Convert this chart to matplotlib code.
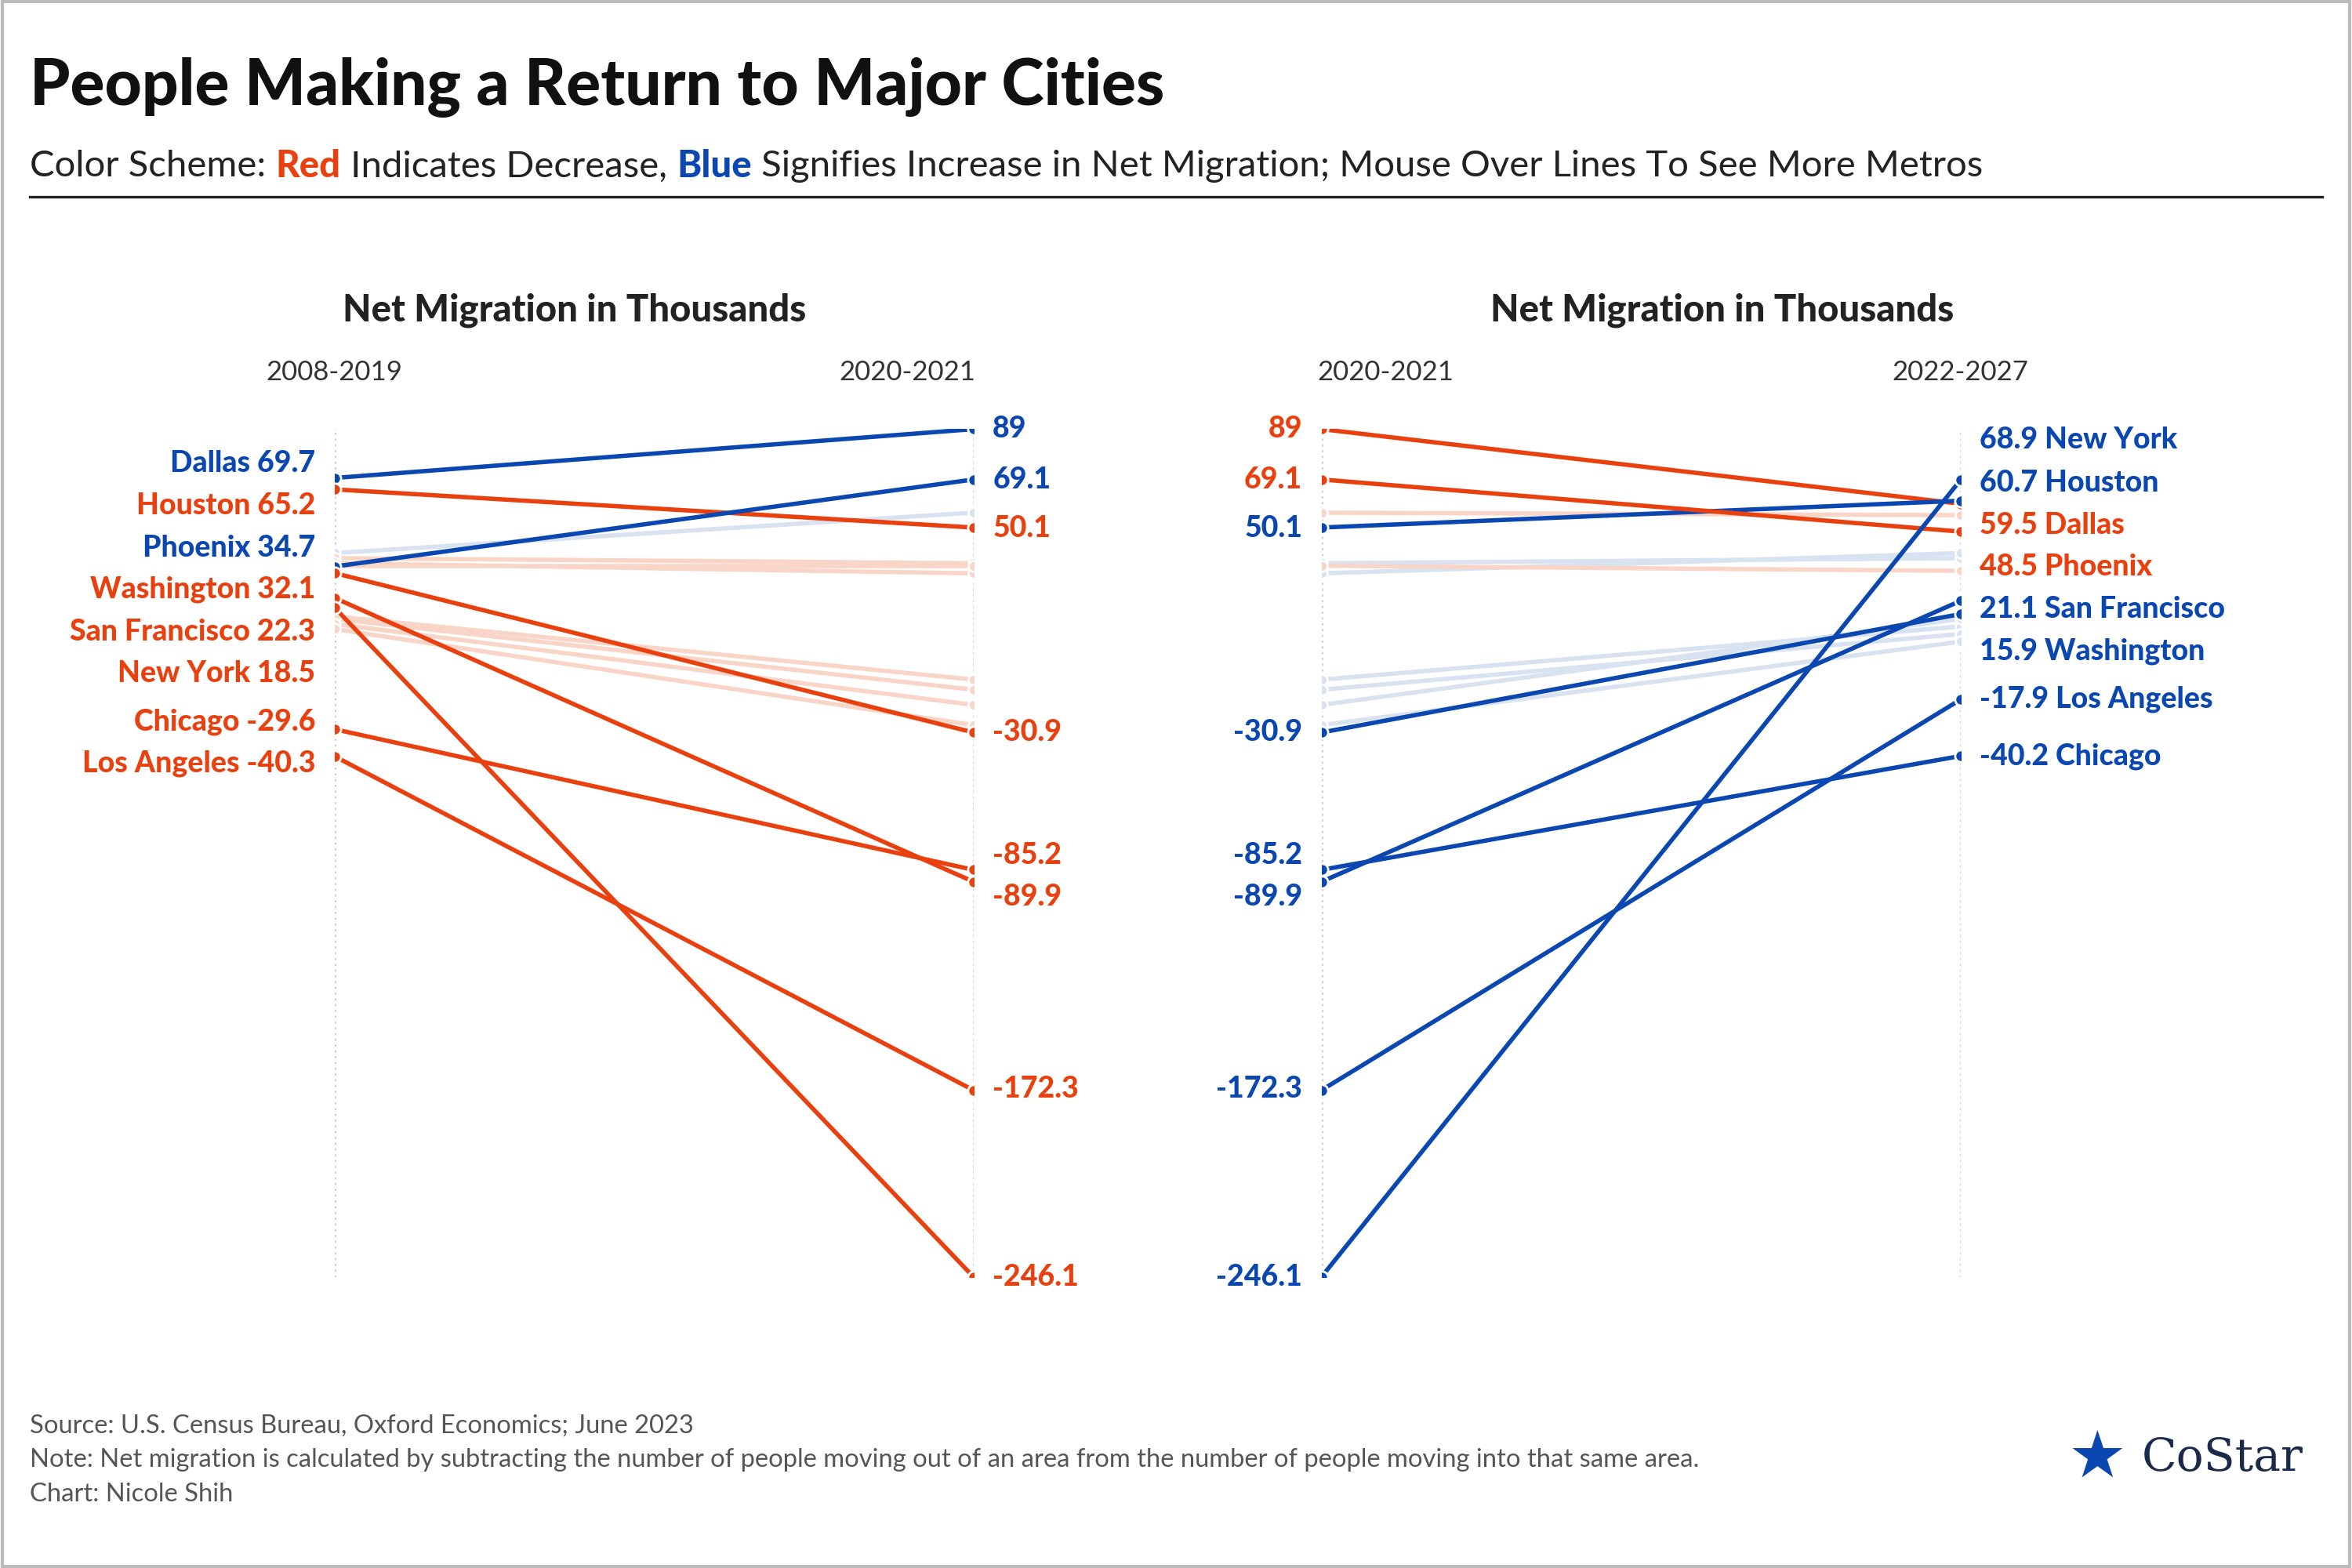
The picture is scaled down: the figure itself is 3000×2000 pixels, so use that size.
import matplotlib
matplotlib.use("Agg")
import matplotlib.pyplot as plt
from matplotlib.patches import Rectangle

plt.rcParams['font.family'] = ['Lato', 'DejaVu Sans']

RED = '#E8410F'
BLUE = '#0A47B0'
LRED = '#F9D5C8'
LBLUE = '#D8E2F0'

# highlighted metros
cities = ['Dallas', 'Houston', 'Phoenix', 'Washington', 'San Francisco',
          'New York', 'Chicago', 'Los Angeles']
v_0819 = [69.7, 65.2, 34.7, 32.1, 22.3, 18.5, -29.6, -40.3]
v_2021 = [89, 50.1, 69.1, -30.9, -89.9, -246.1, -85.2, -172.3]
v_2227 = [59.5, 60.7, 48.5, 15.9, 21.1, 68.9, -40.2, -17.9]

# faint background metros (estimated)
bg_0819 = [40, 38, 36, 35, 15, 14, 12, 10]
bg_2021 = [56, 36, 32, 35, -10, -14, -20, -28]
bg_2227 = [55, 38, 40, 33, 11, 8, 14, 5]

W, H = 1568, 1045
fig = plt.figure(figsize=(15, 10), dpi=200)
fig.patches.append(Rectangle((0.001, 0.001), 0.998, 0.998, transform=fig.transFigure,
                             fill=False, ec='#BBBBBB', lw=1.5))

def fx(px): return px / W
def fy(py): return 1 - py / H

fig.text(fx(20), fy(58), 'People Making a Return to Major Cities', fontsize=29.5,
         fontweight='black', va='center', color='#111111')
sub = [('Color Scheme: ', '#222222', 'normal'), ('Red', RED, 'black'),
       (' Indicates Decrease, ', '#222222', 'normal'), ('Blue', BLUE, 'black'),
       (' Signifies Increase in Net Migration; Mouse Over Lines To See More Metros', '#222222', 'normal')]
r = fig.canvas.get_renderer()
x = fx(20)
for s, c, w in sub:
    t = fig.text(x, fy(111), s, fontsize=17, va='center', color=c, fontweight=w)
    bb = t.get_window_extent(renderer=r)
    x += bb.width / fig.bbox.width
fig.add_artist(plt.Line2D([fx(20), fx(1548)], [fy(131), fy(131)], color='#222222', lw=1.2))

fig.text(fx(20), fy(950), 'Source: U.S. Census Bureau, Oxford Economics; June 2023', fontsize=11.8, color='#555555', va='center')
fig.text(fx(20), fy(973), 'Note: Net migration is calculated by subtracting the number of people moving out of an area from the number of people moving into that same area.', fontsize=11.8, color='#555555', va='center')
fig.text(fx(20), fy(996), 'Chart: Nicole Shih', fontsize=11.8, color='#555555', va='center')
fig.text(fx(1428), fy(972), 'CoStar', fontsize=21, family='DejaVu Serif', color='#1a2a4a', va='center')
fig.text(fx(1398), fy(972), '\u2605', fontsize=30, family='DejaVu Sans', color=BLUE, ha='center', va='center')

top, bot = 286, 851
ymax, ymin = 89, -246.1
def pyval(py):
    return ymax - (py - top) * (ymax - ymin) / (bot - top)

def panel(xl, xr, a, b, bga, bgb, title, tx, ca, cax, cb, cbx, left_lab, right_lab, lpos, rpos):
    ax = fig.add_axes([fx(xl), fy(bot), fx(xr - xl), fy(top) - fy(bot)])
    ax.set_xlim(0, 1)
    ax.set_ylim(ymin, ymax)
    ax.axis('off')
    for xx in (0, 1):
        ax.plot([xx, xx], [ymin, pyval(top - 4)], ls=':', color='#CCCCCC', lw=1, zorder=0)
    for p, q in zip(bga, bgb):
        c = LBLUE if q > p else LRED
        ax.plot([0, 1], [p, q], color=c, lw=2, zorder=1)
        ax.plot([0, 1], [p, q], 'o', color=c, ms=5, mec='white', mew=1, zorder=1)
    for p, q in zip(a, b):
        c = BLUE if q > p else RED
        ax.plot([0, 1], [p, q], color=c, lw=2, zorder=2)
        ax.plot([0, 1], [p, q], 'o', color=c, ms=5.5, mec='white', mew=1, zorder=3)
    fig.text(fx(tx), fy(207), title, ha='center', va='center', fontsize=17,
             fontweight='black', color='#222222')
    fig.text(fx(cax), fy(248), ca, ha='center', va='center', fontsize=12.5, color='#333333')
    fig.text(fx(cbx), fy(248), cb, ha='center', va='center', fontsize=12.5, color='#333333')
    for (s, c), py in zip(left_lab, lpos):
        ax.text(-0.03, pyval(py), s, ha='right', va='center', fontsize=13.5, fontweight='black',
                color=c, clip_on=False)
    for (s, c), py in zip(right_lab, rpos):
        ax.text(1.03, pyval(py), s, ha='left', va='center', fontsize=13.5, fontweight='black',
                color=c, clip_on=False)
    return ax

col1 = [BLUE if b > a else RED for a, b in zip(v_0819, v_2021)]
col2 = [BLUE if b > a else RED for a, b in zip(v_2021, v_2227)]

left_lab = [(f'{c} {v:g}', k) for c, v, k in zip(cities, v_0819, col1)]
order_mid = sorted(range(8), key=lambda i: -v_2021[i])
mid_r = [(f'{v_2021[i]:g}', col1[i]) for i in order_mid]
mid_l = [(f'{v_2021[i]:g}', col2[i]) for i in order_mid]
mid_pos = [286, 320, 352, 488, 570, 598, 726, 851]
order_r = sorted(range(8), key=lambda i: -v_2227[i])
right_lab = [(f'{v_2227[i]:g} {cities[i]}', col2[i]) for i in order_r]

panel(223, 649, v_0819, v_2021, bg_0819, bg_2021, 'Net Migration in Thousands', 383,
      '2008-2019', 223, '2020-2021', 605, left_lab, mid_r,
      [309, 337, 365, 393, 421, 449, 481, 509], mid_pos)
panel(881, 1307, v_2021, v_2227, bg_2021, bg_2227, 'Net Migration in Thousands', 1148,
      '2020-2021', 924, '2022-2027', 1307, mid_l, right_lab,
      mid_pos, [293, 322, 350, 378, 406, 434, 466, 504])

fig.savefig('out.png', dpi=200)
